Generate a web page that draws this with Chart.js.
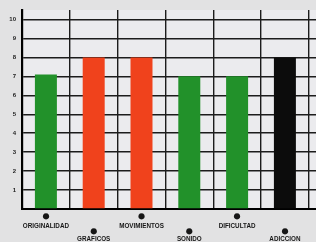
<!DOCTYPE html>
<html><head><meta charset="utf-8">
<style>
html,body{margin:0;padding:0;background:#e2e2e3;overflow:hidden}
#wrap{width:316px;height:242px}
canvas{display:block}
</style>
<script src="https://cdn.jsdelivr.net/npm/chart.js@4/dist/chart.umd.min.js"></script>
</head><body><div id="wrap"><canvas id="c" width="316" height="242"></canvas></div>
<script>
const categories = ["ORIGINALIDAD","GRAFICOS","MOVIMIENTOS","SONIDO","DIFICULTAD","ADICCION"];
const values = [7.1, 8, 8, 7, 7, 8];
const barColors = ["#22912a","#f0421c","#f0421c","#22912a","#22912a","#0c0c0c"];
const yTicks = [0,1,2,3,4,5,6,7,8,9,10];

const areaBg = {
  id:'areaBg',
  beforeDraw(chart){
    const {ctx, chartArea:a} = chart;
    ctx.save(); ctx.fillStyle='#ebebee';
    ctx.fillRect(a.left, a.top, a.right-a.left, a.bottom-a.top);
    ctx.restore();
  }
};

new Chart(document.getElementById('c'), {
  type:'bar',
  data:{
    datasets:[{
      data: values.map((v,i)=>({x:i+0.5, y:v})),
      backgroundColor: barColors,
      borderWidth:0,
      barPercentage:0.46,
      categoryPercentage:1
    }]
  },
  options:{
    responsive:false, devicePixelRatio:1, animation:false,
    layout:{padding:{top:10,right:0,left:0,bottom:0}},
    plugins:{legend:{display:false}, tooltip:{enabled:false}},
    scales:{
      x:{
        type:'linear', min:0, max:(316-22)/47.8, offset:false,
        afterBuildTicks(s){ s.ticks = categories.map((c,i)=>({value:i+0.5})); },
        afterFit(s){ s.height = 33; },
        grid:{offset:true, color:'#1c1c1c', lineWidth:1.4, drawTicks:false},
        border:{display:true, color:'#000', width:2},
        ticks:{
          autoSkip:false, maxRotation:0, minRotation:0, padding:1.6, color:'#161616',
          callback:(v,i)=> i%2===0 ? ['⬤', categories[i]] : ['','','⬤', categories[i]],
          font:(ctx)=>({family:"'Liberation Sans', 'DejaVu Sans', Arial, sans-serif", size:6.3, weight:'bold',
                        lineHeight: (ctx.index%2===0 ? '10.7px' : '8.3px')})
        }
      },
      y:{
        min:0, max:10.5, z:1,
        afterBuildTicks(s){ s.ticks = yTicks.map(v=>({value:v})); },
        afterFit(s){ s.width = 22; },
        grid:{color:'#1c1c1c', lineWidth:1.4, drawTicks:false},
        border:{display:true, color:'#000', width:2.2},
        ticks:{
          padding:6, color:'#222',
          callback:(v)=> v===0 ? '' : String(v),
          font:{family:"'Liberation Sans', Arial, sans-serif", size:6, weight:'bold'}
        }
      }
    }
  },
  plugins:[areaBg]
});
</script>
</body></html>
